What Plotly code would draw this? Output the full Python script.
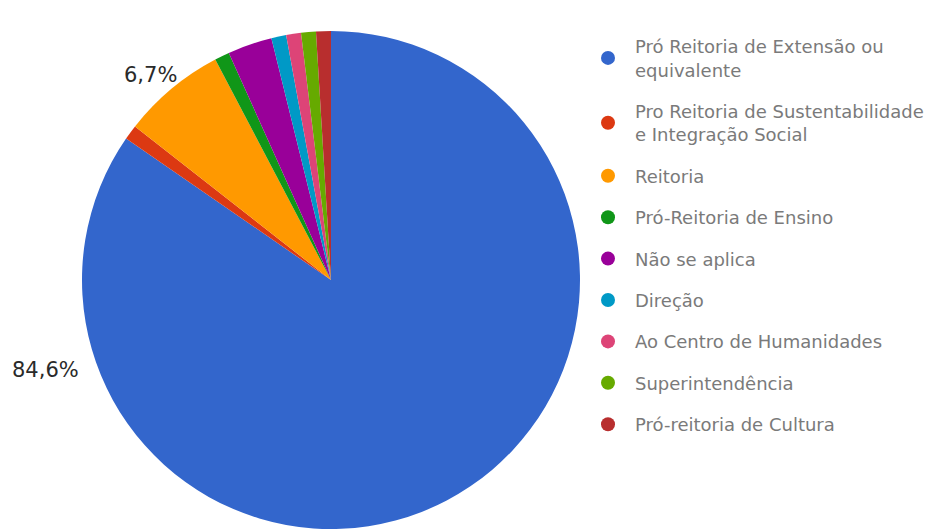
import plotly.graph_objects as go

categories = [
    "Pró Reitoria de Extensão ou<br>equivalente",
    "Pro Reitoria de Sustentabilidade<br>e Integração Social",
    "Reitoria",
    "Pró-Reitoria de Ensino",
    "Não se aplica",
    "Direção",
    "Ao Centro de Humanidades",
    "Superintendência",
    "Pró-reitoria de Cultura",
]
values = [88, 1, 7, 1, 3, 1, 1, 1, 1]
colors = ["#3366cc", "#dc3912", "#ff9900", "#109618", "#990099",
          "#0099c6", "#dd4477", "#66aa00", "#b82e2e"]

W, H = 944, 530
cx, cy, r = 331, 280, 249

fig = go.Figure()
fig.add_trace(go.Pie(
    labels=categories, values=values, sort=False, direction="clockwise",
    rotation=0, marker=dict(colors=colors, line=dict(width=0)),
    textinfo="none", hoverinfo="label+percent", showlegend=False,
    domain=dict(x=[(cx - r) / W, (cx + r) / W], y=[1 - (cy + r) / H, 1 - (cy - r) / H]),
))

# legend entries (separate groups to get Google-Charts-like spacing)
for name, col in zip(categories, colors):
    fig.add_trace(go.Scatter(
        x=[None], y=[None], mode="markers", name=name, legendgroup=name,
        marker=dict(color=col, size=14, symbol="circle"),
    ))

total = sum(values)
label_pos = {0: (45, 370), 2: (150, 75)}
for i, (px, py) in label_pos.items():
    pct = f"{values[i] / total * 100:.1f}".replace(".", ",") + "%"
    fig.add_annotation(x=px / W, y=1 - py / H, xref="paper", yref="paper",
                       xanchor="center", yanchor="middle",
                       text=pct, showarrow=False,
                       font=dict(family="DejaVu Sans", size=21, color="#2a2a2a"))

fig.update_layout(
    width=W, height=H, margin=dict(l=0, r=0, t=0, b=0),
    paper_bgcolor="white", plot_bgcolor="white",
    xaxis=dict(visible=False), yaxis=dict(visible=False),
    legend=dict(x=581 / W, y=1 - 28 / H, xanchor="left", yanchor="top",
                font=dict(family="DejaVu Sans", size=18, color="#7a7a7a"),
                itemwidth=44,
                tracegroupgap=15, itemclick=False, bgcolor="rgba(0,0,0,0)"),
    showlegend=True,
)
fig.write_html("out.html", config={"displayModeBar": False},
               post_script="document.body.style.margin='0';")
